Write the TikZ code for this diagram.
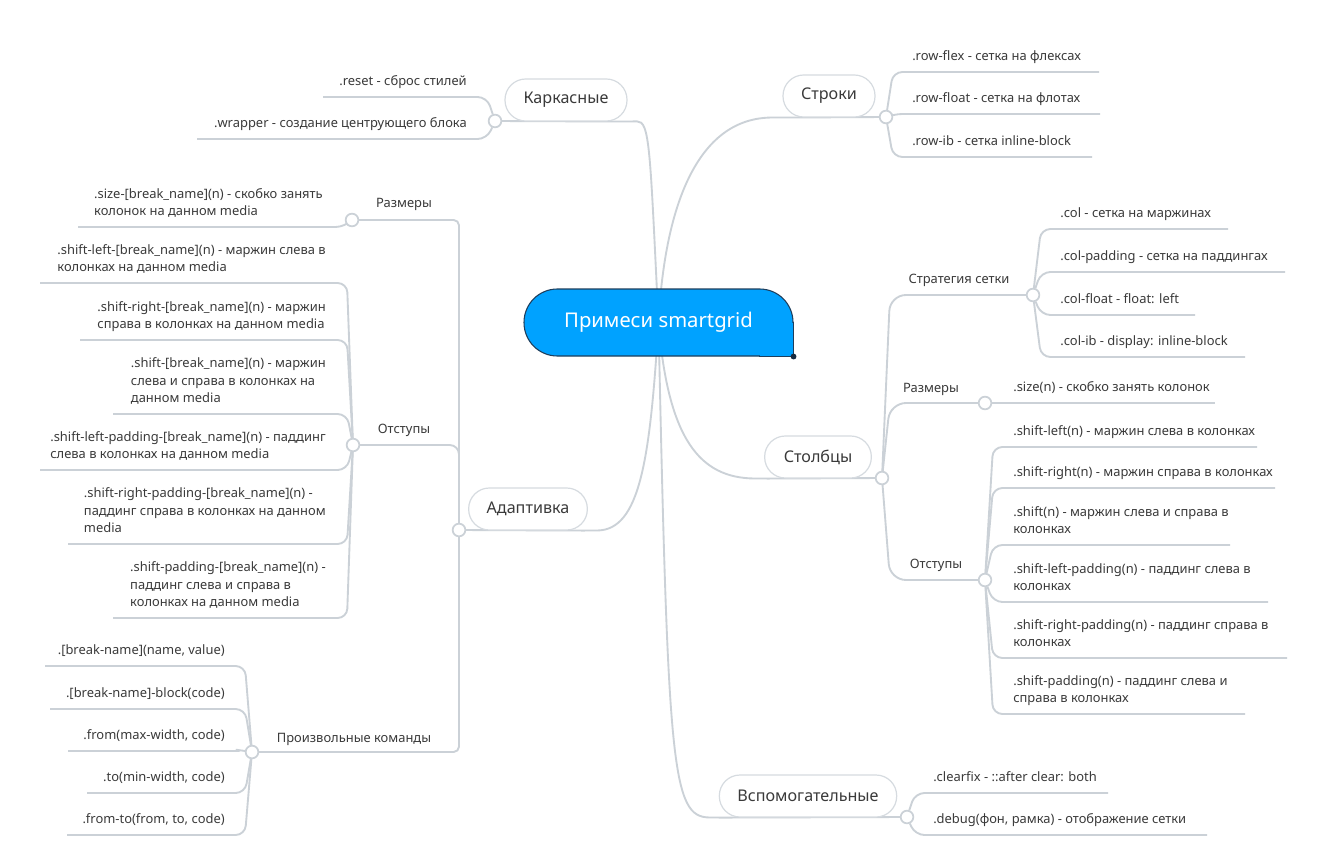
\documentclass[tikz,border=0pt]{standalone}
\usepackage{fontspec}
\setmainfont{Noto Sans}
\usetikzlibrary{backgrounds,positioning}

\definecolor{linegray}{RGB}{203,209,215}
\definecolor{pillgray}{RGB}{214,219,224}
\definecolor{txtgray}{RGB}{58,58,58}
\definecolor{rootblue}{RGB}{0,162,255}
\definecolor{rootedge}{RGB}{30,62,92}

\tikzset{
  link/.style={draw=linegray, line width=1.4pt, rounded corners=7pt},
  topic/.style={draw=pillgray, line width=0.9pt, fill=white, rounded corners=15.5pt,
    minimum height=31.5pt, inner sep=0pt, text=txtgray, font=\fontsize{12.1}{14}\selectfont},
  rootnode/.style={draw=rootedge, line width=0.8pt, fill=rootblue, rounded corners=25pt,
    inner sep=0pt, text=white, font=\fontsize{15.2}{18}\selectfont},
  knot/.style={circle, draw=linegray, line width=1.3pt, fill=white, minimum size=9.5pt, inner sep=0pt},
  leaf/.style={inner sep=0pt, text depth=0pt, align=left, text=txtgray, font=\fontsize{9.7}{13.1}\selectfont}
}

\begin{document}
\begin{tikzpicture}[x=0.75pt, y=-0.75pt]
\useasboundingbox (0,0) rectangle (1344,866);

\node[rootnode, minimum width=201.75pt, minimum height=50.25pt] (root) at (658.5,322.5) {Примеси smartgrid};
\fill[rootblue] ([xshift=-25pt,yshift=0.5pt]root.south east) rectangle ([xshift=-0.5pt,yshift=25pt]root.south east);
\draw[rootedge, line width=0.8pt] ([xshift=-26pt]root.south east) -- (root.south east) -- ([yshift=26pt]root.south east);
\fill[rootedge!70!black] (root.south east) circle[radius=2.2pt];

\node[topic, minimum width=91.5pt] (karkas) at (566,100) {Каркасные};
\node[topic, minimum width=69pt] (stroki) at (829,96) {Строки};
\node[topic, minimum width=80pt] (stolb) at (818,457) {Столбцы};
\node[topic, minimum width=89pt] (adapt) at (528,509) {Адаптивка};
\node[topic, minimum width=133pt] (vspom) at (808,796) {Вспомогательные};

\node[knot] (karkas-j) at (495,121) {};
\node[knot] (stroki-j) at (886,117) {};
\node[knot] (stolb-j) at (882,478) {};
\node[knot] (adapt-j) at (459,530) {};
\node[knot] (vspom-j) at (907,817) {};
\node[knot] (ss-j) at (1033,295) {};
\node[knot] (sr-j) at (985,403) {};
\node[knot] (so-j) at (985,580) {};
\node[knot] (as-j) at (352,220) {};
\node[knot] (ao-j) at (353,445) {};
\node[knot] (ac-j) at (252,752) {};

\node[leaf, anchor=base] (ss) at (959,283) {Стратегия сетки};
\node[leaf, anchor=base] (sr) at (931,392) {Размеры};
\node[leaf, anchor=base] (so) at (936,568) {Отступы};
\node[leaf, anchor=base] (as) at (404,208) {Размеры};
\node[leaf, anchor=base] (ao) at (404,433) {Отступы};
\node[leaf, anchor=base] (ac) at (354,742) {Произвольные команды};

\begin{scope}[on background layer]
\fill[white] (0,0) rectangle (1344,866);
\draw[link] (root.center) .. controls (650,150) and (650,121) .. (karkas.south east) -- (karkas-j);
\draw[link] (root.center) .. controls (665,200) and (700,117) .. (stroki.south west) -- (stroki-j);
\draw[link] (root.center) .. controls (668,440) and (700,478) .. (stolb.south west) -- (stolb-j);
\draw[link] (root.center) .. controls (650,460) and (640,530) .. (adapt.south east) -- (adapt-j);
\draw[link] (root.center) .. controls (668,770) and (672,817) .. (vspom.south west) -- (vspom-j);
\draw[link, rounded corners=12pt] (stolb-j) -- (890,295) -- (ss-j);
\draw[link, rounded corners=12pt] (stolb-j) -- (890,403) -- (sr-j);
\draw[link, rounded corners=12pt] (stolb-j) -- (890,580) -- (so-j);
\draw[link, rounded corners=4pt] (adapt-j) |- (as-j);
\draw[link] (adapt-j) |- (ao-j);
\draw[link, rounded corners=4pt] (adapt-j) |- (ac-j);
\end{scope}

\foreach \i/\y/\xr/\txt in {1/72/1099/{.row-flex - сетка на флексах},
    2/114/1100/{.row-float - сетка на флотах}, 3/157/1092/{.row-ib - сетка inline-block}}{
  \coordinate (stroki-\i) at (\xr,\y);
  \node[leaf, anchor=south west] (stroki-t\i) at (912,\y-11) {\txt};
  \begin{scope}[on background layer]
    \draw[link] (stroki-j) -- (893,\y) -- (stroki-\i);
  \end{scope}
}

\foreach \i/\y/\xr/\txt in {1/229/1228/{.col - сетка на маржинах},
    2/272/1285/{.col-padding - сетка на паддингах}, 3/315/1195/{.col-float - float: left},
    4/357/1245/{.col-ib - display: inline-block}}{
  \coordinate (ss-\i) at (\xr,\y);
  \node[leaf, anchor=south west] (ss-t\i) at (1060,\y-11) {\txt};
  \begin{scope}[on background layer]
    \draw[link] (ss-j) -- (1041,\y) -- (ss-\i);
  \end{scope}
}

\coordinate (sr-1) at (1215,403);
\node[leaf, anchor=south west] (sr-t1) at (1013,392) {.size(n) - скобко занять колонок};
\begin{scope}[on background layer]
  \draw[link] (sr-j) -- (sr-1);
\end{scope}

\foreach \i/\y/\xr/\txt in {1/447/1257/{.shift-left(n) - маржин слева в колонках},
    2/488/1275/{.shift-right(n) - маржин справа в колонках},
    3/545/1230/{.shift(n) - маржин слева и справа в\\колонках},
    4/602/1268/{.shift-left-padding(n) - паддинг слева в\\колонках},
    5/658/1287/{.shift-right-padding(n) - паддинг справа в\\колонках},
    6/714/1245/{.shift-padding(n) - паддинг слева и\\справа в колонках}}{
  \coordinate (so-\i) at (\xr,\y);
  \node[leaf, anchor=south west] (so-t\i) at (1013,\y-11) {\txt};
  \begin{scope}[on background layer]
    \draw[link] (so-j) -- (993,\y) -- (so-\i);
  \end{scope}
}

\foreach \i/\y/\xr/\txt in {1/793/1108/{.clearfix - ::after clear: both},
    2/835/1207/{.debug(фон, рамка) - отображение сетки}}{
  \coordinate (vspom-\i) at (\xr,\y);
  \node[leaf, anchor=south west] (vspom-t\i) at (933,\y-11) {\txt};
  \begin{scope}[on background layer]
    \draw[link] (vspom-j) -- (915,\y) -- (vspom-\i);
  \end{scope}
}

\foreach \i/\y/\xl/\txt in {1/97/323/{.reset - сброс стилей},
    2/139/197/{.wrapper - создание центрующего блока}}{
  \coordinate (karkas-\i) at (\xl,\y);
  \node[leaf, anchor=south east] (karkas-t\i) at (467,\y-11) {\txt};
  \begin{scope}[on background layer]
    \draw[link] (karkas-j) -- (487,\y) -- (karkas-\i);
  \end{scope}
}

\coordinate (as-1) at (78,227);
\node[leaf, anchor=south east] (as-t1) at (323,216) {.size-[break\_name](n) - скобко занять\\колонок на данном media};
\begin{scope}[on background layer]
  \draw[link] (as-j) -- (345,227) -- (as-1);
\end{scope}

\foreach \i/\y/\xl/\txt in {1/283/40/{.shift-left-[break\_name](n) - маржин слева в\\колонках на данном media},
    2/340/80/{.shift-right-[break\_name](n) - маржин\\справа в колонках на данном media},
    3/414/113/{.shift-[break\_name](n) - маржин\\слева и справа в колонках на\\данном media},
    4/470/40/{.shift-left-padding-[break\_name](n) - паддинг\\слева в колонках на данном media},
    5/544/68/{.shift-right-padding-[break\_name](n) -\\паддинг справа в колонках на данном\\media},
    6/618/113/{.shift-padding-[break\_name](n) -\\паддинг слева и справа в\\колонках на данном media}}{
  \coordinate (ao-\i) at (\xl,\y);
  \node[leaf, anchor=south east] (ao-t\i) at (326,\y-11) {\txt};
  \begin{scope}[on background layer]
    \draw[link] (ao-j) -- (347,\y) -- (ao-\i);
  \end{scope}
}

\foreach \i/\y/\xl/\txt in {1/666/45/{.[break-name](name, value)},
    2/709/50/{.[break-name]-block(code)}, 3/751/68/{.from(max-width, code)},
    4/793/87/{.to(min-width, code)}, 5/835/67/{.from-to(from, to, code)}}{
  \coordinate (ac-\i) at (\xl,\y);
  \node[leaf, anchor=south east] (ac-t\i) at (225,\y-11) {\txt};
  \begin{scope}[on background layer]
    \draw[link] (ac-j) -- (245,\y) -- (ac-\i);
  \end{scope}
}
\end{tikzpicture}
\end{document}
